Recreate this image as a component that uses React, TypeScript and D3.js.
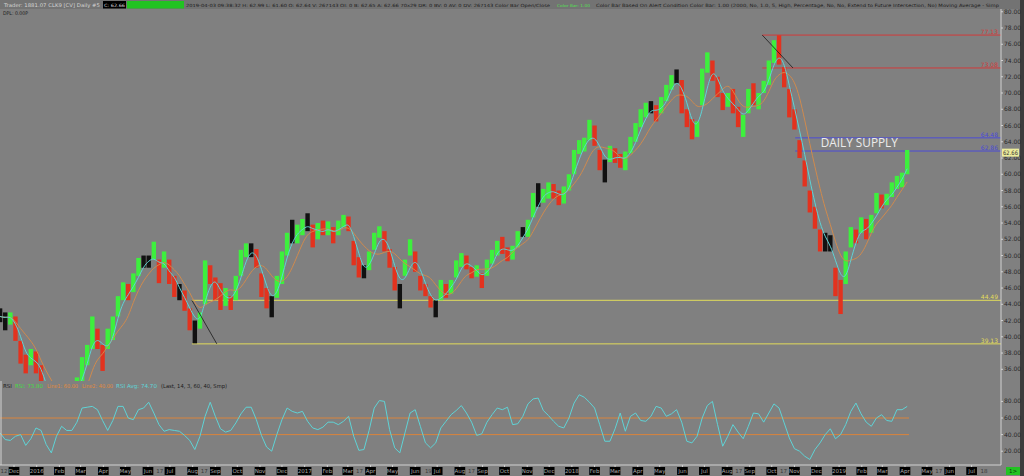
import React from 'react'
import * as d3 from 'd3'

// weekly bars (CLK9, Nov 2015 - Apr 2019)
const barStart = '2015-11-12'
const highs = [
  43.5, 43, 43, 42.5, 39.5, 37.8, 38.5, 38.2, 36.5, 34.5, 33, 32, 31, 32, 33.5, 35, 37.5, 39, 42.5, 41,
  39, 41, 42.5, 45, 46.7, 46.5, 47.8, 49.7, 50, 50, 51.7, 49.5, 50.5, 49.5, 47.5, 46.5, 45.7, 43.5, 42, 43,
  49.4, 48.8, 47.3, 46.6, 46, 45, 47.5, 50.7, 51.5, 51.5, 50.8, 47.8, 46, 45, 47.5, 50.5, 52.8, 54.4, 53.8, 54.5,
  55.2, 53.8, 54, 54.3, 54.2, 53.5, 54.3, 55, 54.8, 51.8, 49.8, 48.8, 50.5, 52.8, 53.6, 53, 50.8, 48.6, 46.5, 49.5,
  52, 50.5, 47.5, 46.5, 45, 44.5, 47, 46.5, 47, 49.4, 50.3, 50, 48.6, 48.8, 47.8, 49.5, 50.7, 51.8, 52.3, 51,
  51.2, 53, 53.5, 54.4, 57.7, 58.9, 58.2, 59, 58.8, 58, 58.5, 60, 63, 64.2, 64.5, 66.7, 66, 63, 61.8, 63.5,
  63.2, 62.5, 62.8, 64.6, 66.3, 68, 68.8, 69, 68.5, 69.5, 71, 72.2, 72.9, 71.6, 68, 66.8, 66.5, 73, 75, 74,
  72, 70, 70, 70.5, 68.3, 67.3, 70.5, 71.2, 70, 71.5, 74, 76.5, 77.1, 73.2, 70.5, 68, 64.2, 61.7, 58, 56,
  53.2, 52.8, 52.5, 48.5, 47, 50.5, 53.5, 53.2, 54.7, 54.5, 55, 57.7, 57.5, 57.6, 59, 59.8, 60.2, 62.99
]
const lows = [
  41.8, 40.8, 41.5, 39.5, 36.7, 35.5, 36.5, 35.5, 33, 31, 30, 29, 28, 29, 30, 32, 34.5, 36.5, 38.5, 38.5,
  35.8, 38.5, 39.6, 42.5, 44.5, 44.5, 45.5, 47.5, 48.5, 48.5, 49.5, 46.6, 48.5, 46.5, 44.9, 44.5, 43.2, 40.8, 39.2, 41,
  44, 46.5, 44.5, 43.3, 43.8, 43.3, 44.5, 47.5, 49.8, 49.8, 48.5, 44.9, 43.5, 42.4, 44.8, 46.5, 50, 51.5, 51.5, 52.5,
  53, 51, 52, 52.5, 52.5, 51.5, 52.5, 53.5, 53, 48.8, 47.3, 47.2, 48.2, 50.7, 52.2, 50.5, 48.5, 45.7, 43.5, 47.5,
  50, 48, 45.7, 45, 43.6, 42.4, 44.5, 44.8, 45.3, 47.3, 48.6, 48.3, 47.2, 47.4, 46, 47.5, 49, 50, 50.2, 49.3,
  49.5, 51, 52.3, 52.3, 54.7, 56, 56.5, 57, 57, 56.2, 56.4, 58, 60, 62.5, 62.8, 64.2, 63.5, 60.5, 59, 61.5,
  61.4, 60.8, 60.5, 62.6, 64, 65.8, 67, 67.5, 66.5, 67.5, 69, 70.4, 71.2, 67.5, 65.8, 64.3, 64.6, 68.5, 72.5, 71.5,
  69.5, 67.9, 68.3, 67.5, 65.8, 64.6, 67.5, 68.5, 68, 70, 71, 73.7, 73.5, 70.7, 67, 65.5, 62, 58.5, 55.3, 53.3,
  50.5, 50.5, 50.5, 45, 42.8, 46.5, 51, 51.5, 52.8, 52, 52.8, 55.2, 55.8, 56.2, 57.2, 58.2, 58.4, 60
]
const closes = [
  42.5, 42.2, 42.8, 40, 37.5, 36.5, 38, 36.5, 34, 32, 31, 30.5, 29.5, 31, 33, 34.5, 36.8, 38.5, 41.8, 39,
  36.5, 40.5, 42.2, 44.5, 46, 45, 47.5, 49.3, 49.2, 49.5, 50.5, 47.2, 49.8, 47, 45.5, 45.5, 43.6, 41.5, 41.8, 42.5,
  48.8, 47.5, 45, 44.5, 45.2, 44.2, 47.2, 50.2, 50.8, 50.6, 49, 45.5, 44.2, 44.6, 47.2, 50, 52.3, 52.5, 53.3, 53.8,
  54, 52, 53.5, 53, 53.5, 52, 54, 54.6, 53.5, 49.2, 48, 47.8, 50.2, 52.5, 53, 51, 49, 46, 45.8, 49.2,
  50.8, 48.4, 46, 45.2, 44, 43.8, 46.5, 45.3, 46.6, 49, 49.8, 48.7, 47.6, 48.3, 46.4, 49.2, 50.4, 51.5, 50.8, 49.8,
  51, 52.6, 53, 54, 57.2, 57, 57.8, 58.5, 57.5, 56.6, 58.2, 59.6, 62.5, 63.5, 64.2, 65.5, 64, 61, 61.2, 63,
  62, 61.3, 62.3, 64.2, 65, 67.3, 68.3, 68.2, 67, 69, 70.5, 71.8, 72.2, 68, 66.5, 65, 66, 72.5, 73.8, 72,
  70, 68.5, 69.5, 68, 66.5, 67, 70, 69.2, 69.8, 71, 73.8, 76, 74, 71.2, 67.5, 66, 62.5, 59, 56.3, 54,
  51.5, 51.3, 51, 46, 45.5, 50, 52.8, 52.2, 54.2, 53, 54.5, 57, 56.5, 57.2, 58.6, 59.4, 60, 62.66
]
// RSI(14) at the same weekly steps
const rsi = [
  42, 34, 33, 38, 40, 27, 35, 48, 45, 28, 18, 38, 50, 45, 45, 55, 72, 73, 74, 70,
  57, 45, 57, 74, 74, 60, 58, 70, 72, 79, 66, 52, 44, 46, 45, 44, 39, 33, 22, 38,
  62, 79, 62, 47, 43, 45, 54, 65, 73, 73, 58, 39, 25, 20, 40, 58, 72, 68, 66, 68,
  56, 48, 46, 49, 55, 55, 52, 56, 62, 38, 21, 22, 45, 72, 81, 80, 46, 24, 18, 42,
  66, 70, 50, 30, 24, 30, 48, 56, 64, 69, 75, 66, 55, 39, 41, 55, 64, 72, 70, 73,
  52, 53, 62, 77, 83, 84, 69, 63, 56, 50, 48, 60, 78, 88, 85, 79, 72, 52, 32, 32,
  47, 66, 44, 62, 66, 57, 56, 62, 74, 72, 62, 65, 70, 55, 32, 30, 38, 60, 75, 80,
  52, 26, 38, 52, 43, 35, 50, 66, 65, 55, 66, 77, 72, 54, 36, 23, 20, 14, 10, 22,
  30, 40, 47, 35, 40, 52, 68, 78, 65, 55, 50, 60, 64, 57, 56, 70, 70, 74
]

const priceTicks = [80, 78, 76, 74, 72, 70, 68, 66, 64, 62, 60, 58, 56, 54, 52, 50, 48, 46, 44, 42, 40, 38, 36]
const rsiTicks = [80, 60, 40, 20]
const rsiLines = [60, 40]
const dayMarks = [
  ['2015-11-12', '12'], ['2016-06-17', '17'], ['2016-08-17', '17'], ['2017-03-17', '17'],
  ['2017-06-19', '19'], ['2017-08-17', '17'], ['2018-08-17', '17'], ['2018-10-17', '17'],
  ['2019-05-17', '17'], ['2019-07-18', '18']
]
const levels = [
  { value: 77.13, start: '2018-09-18', color: '#d23a3a' },
  { value: 73.08, start: '2018-09-18', color: '#d23a3a' },
  { value: 64.48, start: '2018-11-02', color: '#4b4bd6' },
  { value: 62.86, start: '2018-11-02', color: '#4b4bd6' },
  { value: 44.49, start: '2016-07-31', color: '#e2dc5a' },
  { value: 39.13, start: '2016-07-31', color: '#e2dc5a' }
]
const trendLines = [
  { d0: '2016-07-31', p0: 44.49, d1: '2016-09-03', p1: 39.13 },
  { d0: '2018-09-18', p0: 77.13, d1: '2018-10-30', p1: 73.08 }
]

const W = 1024
const H = 476
const AXIS_X = 1001
const parse = d3.timeParse('%Y-%m-%d')
const font = '"DejaVu Sans", Verdana, sans-serif'

const sma = (arr: number[], n: number) =>
  arr.map((_, i) => d3.mean(arr.slice(Math.max(0, i - n + 1), i + 1)) as number)

const App: React.FC = () => {
  const x = d3.scaleTime()
    .domain([new Date(2015, 11, 1), new Date(2019, 3, 1)])
    .range([14, 905])
  const yP = d3.scaleLinear().domain([36, 78]).range([369.3, 28])
  const yR = d3.scaleLinear().domain([20, 80]).range([451.2, 401.4])

  const start = parse(barStart) as Date
  const dates = closes.map((_, i) => d3.timeDay.offset(start, 7 * i))

  const fast = sma(closes, 3)
  const slow = sma(closes, 6)
  const line = (vals: number[], y: d3.ScaleLinear<number, number>) =>
    d3.line<number>()
      .x((_, i) => x(dates[i]))
      .y(d => y(d))
      .curve(d3.curveBasis)(vals) ?? ''
  const rsiPath = d3.line<number>()
    .x((_, i) => x(dates[i]))
    .y(d => yR(d))(rsi) ?? ''

  const barColor = (i: number) => {
    const chg = closes[i] - (i ? closes[i - 1] : closes[i])
    if (Math.abs(chg) < 0.5) return '#111'
    return chg > 0 ? '#3df03d' : '#e3321e'
  }

  const months = d3.timeMonth.range(new Date(2015, 11, 1), new Date(2019, 7, 1))
  const monthLabel = (d: Date) => (d.getMonth() === 0 ? String(d.getFullYear()) : d3.timeFormat('%b')(d))

  return (
    <svg width={W} height={H} style={{ position: 'absolute', left: 0, top: 0, display: 'block' }}
      fontFamily={font}>
      <defs>
        <clipPath id="pricePane"><rect x={0} y={10} width={AXIS_X} height={371} /></clipPath>
        <clipPath id="rsiPane"><rect x={0} y={381} width={AXIS_X} height={84} /></clipPath>
      </defs>
      <rect width={W} height={H} fill="#808080" />

      {/* header */}
      <rect x={0} y={0} width={W} height={9} fill="#737373" />
      <text x={4} y={7} fontSize={5} fill="#d4d4d4" textLength={96} lengthAdjust="spacingAndGlyphs">
        Trader: 1881.07  CLK9 [CV]  Daily  #5
      </text>
      <rect x={103} y={1} width={23} height={7.5} fill="#000" />
      <text x={104} y={7} fontSize={4.5} fill="#dcdcdc" textLength={21} lengthAdjust="spacingAndGlyphs">C: 62.66</text>
      <rect x={127} y={1} width={57} height={7.5} fill="#22c322" />
      <text x={186} y={7} fontSize={4.3} fill="#1c1c1c" textLength={364} lengthAdjust="spacingAndGlyphs">
        2019-04-03 09:38:32 H: 62.99 L: 61.60 O: 62.64 V: 267143 OI: 0 B: 62.65 A: 62.66 70x29 DR: 0 BV: 0 AV: 0 DV: 267143 Color Bar Open/Close
      </text>
      <text x={557} y={7} fontSize={3.8} fill="#52e052" textLength={33} lengthAdjust="spacingAndGlyphs">Color Bar: 1.00</text>
      <text x={596} y={7} fontSize={4.4} fill="#1c1c1c" textLength={403} lengthAdjust="spacingAndGlyphs">
        Color Bar Based On Alert Condition  Color Bar: 1.00  (2000, No, 1.0, 5, High, Percentage, No, No, Extend to Future Intersection, No)  Moving Average - Simp
      </text>
      <text x={3} y={15} fontSize={5} fill="#1c1c1c" textLength={25} lengthAdjust="spacingAndGlyphs">DPL: 0.00P</text>

      {/* price pane */}
      <g clipPath="url(#pricePane)">
        {levels.map((l, i) => (
          <line key={`lv${i}`} x1={x(parse(l.start) as Date)} x2={AXIS_X} y1={yP(l.value)} y2={yP(l.value)}
            stroke={l.color} strokeWidth={1} />
        ))}
        {closes.map((_, i) => (
          <rect key={`b${i}`} x={x(dates[i]) - 2.2} width={4.4} y={yP(highs[i])}
            height={Math.max(1, yP(lows[i]) - yP(highs[i]))} fill={barColor(i)} />
        ))}
        <path d={line(slow, yP)} fill="none" stroke="#cf8a4e" strokeWidth={1} />
        <path d={line(fast, yP)} fill="none" stroke="#5fd3d6" strokeWidth={1} />
        {trendLines.map((t, i) => (
          <line key={`tl${i}`} x1={x(parse(t.d0) as Date)} y1={yP(t.p0)} x2={x(parse(t.d1) as Date)} y2={yP(t.p1)}
            stroke="#1a1a1a" strokeWidth={0.8} />
        ))}
      </g>
      {levels.map((l, i) => (
        <text key={`lt${i}`} x={998} y={yP(l.value) - 1} textAnchor="end" fontSize={6} fill={l.color}>
          {l.value.toFixed(2)}
        </text>
      ))}
      <text x={x(parse('2018-12-07') as Date)} y={yP(63.3)} fontSize={13} fill="#ececec"
        fontFamily='"Open Sans", "DejaVu Sans", sans-serif' textLength={77} lengthAdjust="spacingAndGlyphs">
        DAILY SUPPLY
      </text>

      {/* RSI pane */}
      <text x={3} y={388} fontSize={5.5} fill="#1c1c1c">RSI</text>
      <text x={15} y={388} fontSize={5.5} fill="#44dd44" textLength={28} lengthAdjust="spacingAndGlyphs">RSI: 73.80</text>
      <text x={47} y={388} fontSize={5.5} fill="#e08a3c" textLength={31} lengthAdjust="spacingAndGlyphs">Line1: 60.00</text>
      <text x={82} y={388} fontSize={5.5} fill="#e08a3c" textLength={31} lengthAdjust="spacingAndGlyphs">Line2: 40.00</text>
      <text x={116} y={388} fontSize={5.5} fill="#5fd3d6" textLength={41} lengthAdjust="spacingAndGlyphs">RSI Avg: 74.70</text>
      <text x={161} y={388} fontSize={5.5} fill="#1c1c1c" textLength={66} lengthAdjust="spacingAndGlyphs">(Last, 14, 3, 60, 40, Smp)</text>
      <g clipPath="url(#rsiPane)">
        {rsiLines.map(v => (
          <line key={`rl${v}`} x1={0} x2={909} y1={yR(v)} y2={yR(v)} stroke="#d9843c" strokeWidth={1} />
        ))}
        <path d={rsiPath} fill="none" stroke="#5fd3d6" strokeWidth={1} />
      </g>

      {/* frame */}
      <line x1={AXIS_X} x2={AXIS_X} y1={9} y2={465} stroke="#d2d2d2" strokeWidth={1} />
      <line x1={0} x2={AXIS_X} y1={465} y2={465} stroke="#d2d2d2" strokeWidth={1} />
      <line x1={1} x2={1} y1={381} y2={465} stroke="#d2d2d2" strokeWidth={1} />
      <rect x={1020} y={0} width={4} height={H} fill="#3c3c3c" />

      {/* price axis */}
      {priceTicks.map(t => (
        <g key={`pt${t}`}>
          <line x1={AXIS_X} x2={AXIS_X + 2} y1={yP(t)} y2={yP(t)} stroke="#d2d2d2" />
          <text x={1004} y={yP(t) + 2} fontSize={6} fill="#2a2a2a">{t.toFixed(2)}</text>
        </g>
      ))}
      <rect x={1002} y={yP(62.66) - 4} width={17} height={8} fill="#ecec9c" />
      <text x={1003} y={yP(62.66) + 2} fontSize={6} fill="#333" textLength={15} lengthAdjust="spacingAndGlyphs">62.66</text>
      {rsiTicks.map(t => (
        <g key={`rt${t}`}>
          <line x1={AXIS_X} x2={AXIS_X + 2} y1={yR(t)} y2={yR(t)} stroke="#d2d2d2" />
          <text x={1004} y={yR(t) + 2} fontSize={6} fill="#2a2a2a">{t.toFixed(2)}</text>
        </g>
      ))}

      {/* date axis */}
      {months.map((m, i) => {
        const label = monthLabel(m)
        const w = label.length * 2.9 + 2
        const cx = x(m)
        return (
          <g key={`m${i}`}>
            <line x1={cx} x2={cx} y1={465} y2={467} stroke="#d2d2d2" />
            <rect x={cx - w / 2} y={467} width={w} height={8} fill="#000" />
            <text x={cx} y={473.3} fontSize={5.5} textAnchor="middle" fill="#a8a8a8">{label}</text>
          </g>
        )
      })}
      {dayMarks.map(([d, label]) => (
        <text key={`d${d}`} x={Math.max(4, x(parse(d) as Date))} y={473.3} fontSize={5.5} textAnchor="middle"
          fill="#3a3a3a">{label}</text>
      ))}
      <rect x={1006} y={467} width={14} height={8} fill="#22c322" />
      <text x={1013} y={473.3} fontSize={5.5} textAnchor="middle" fill="#0a3a0a">1&gt;</text>
    </svg>
  )
}

export default App
